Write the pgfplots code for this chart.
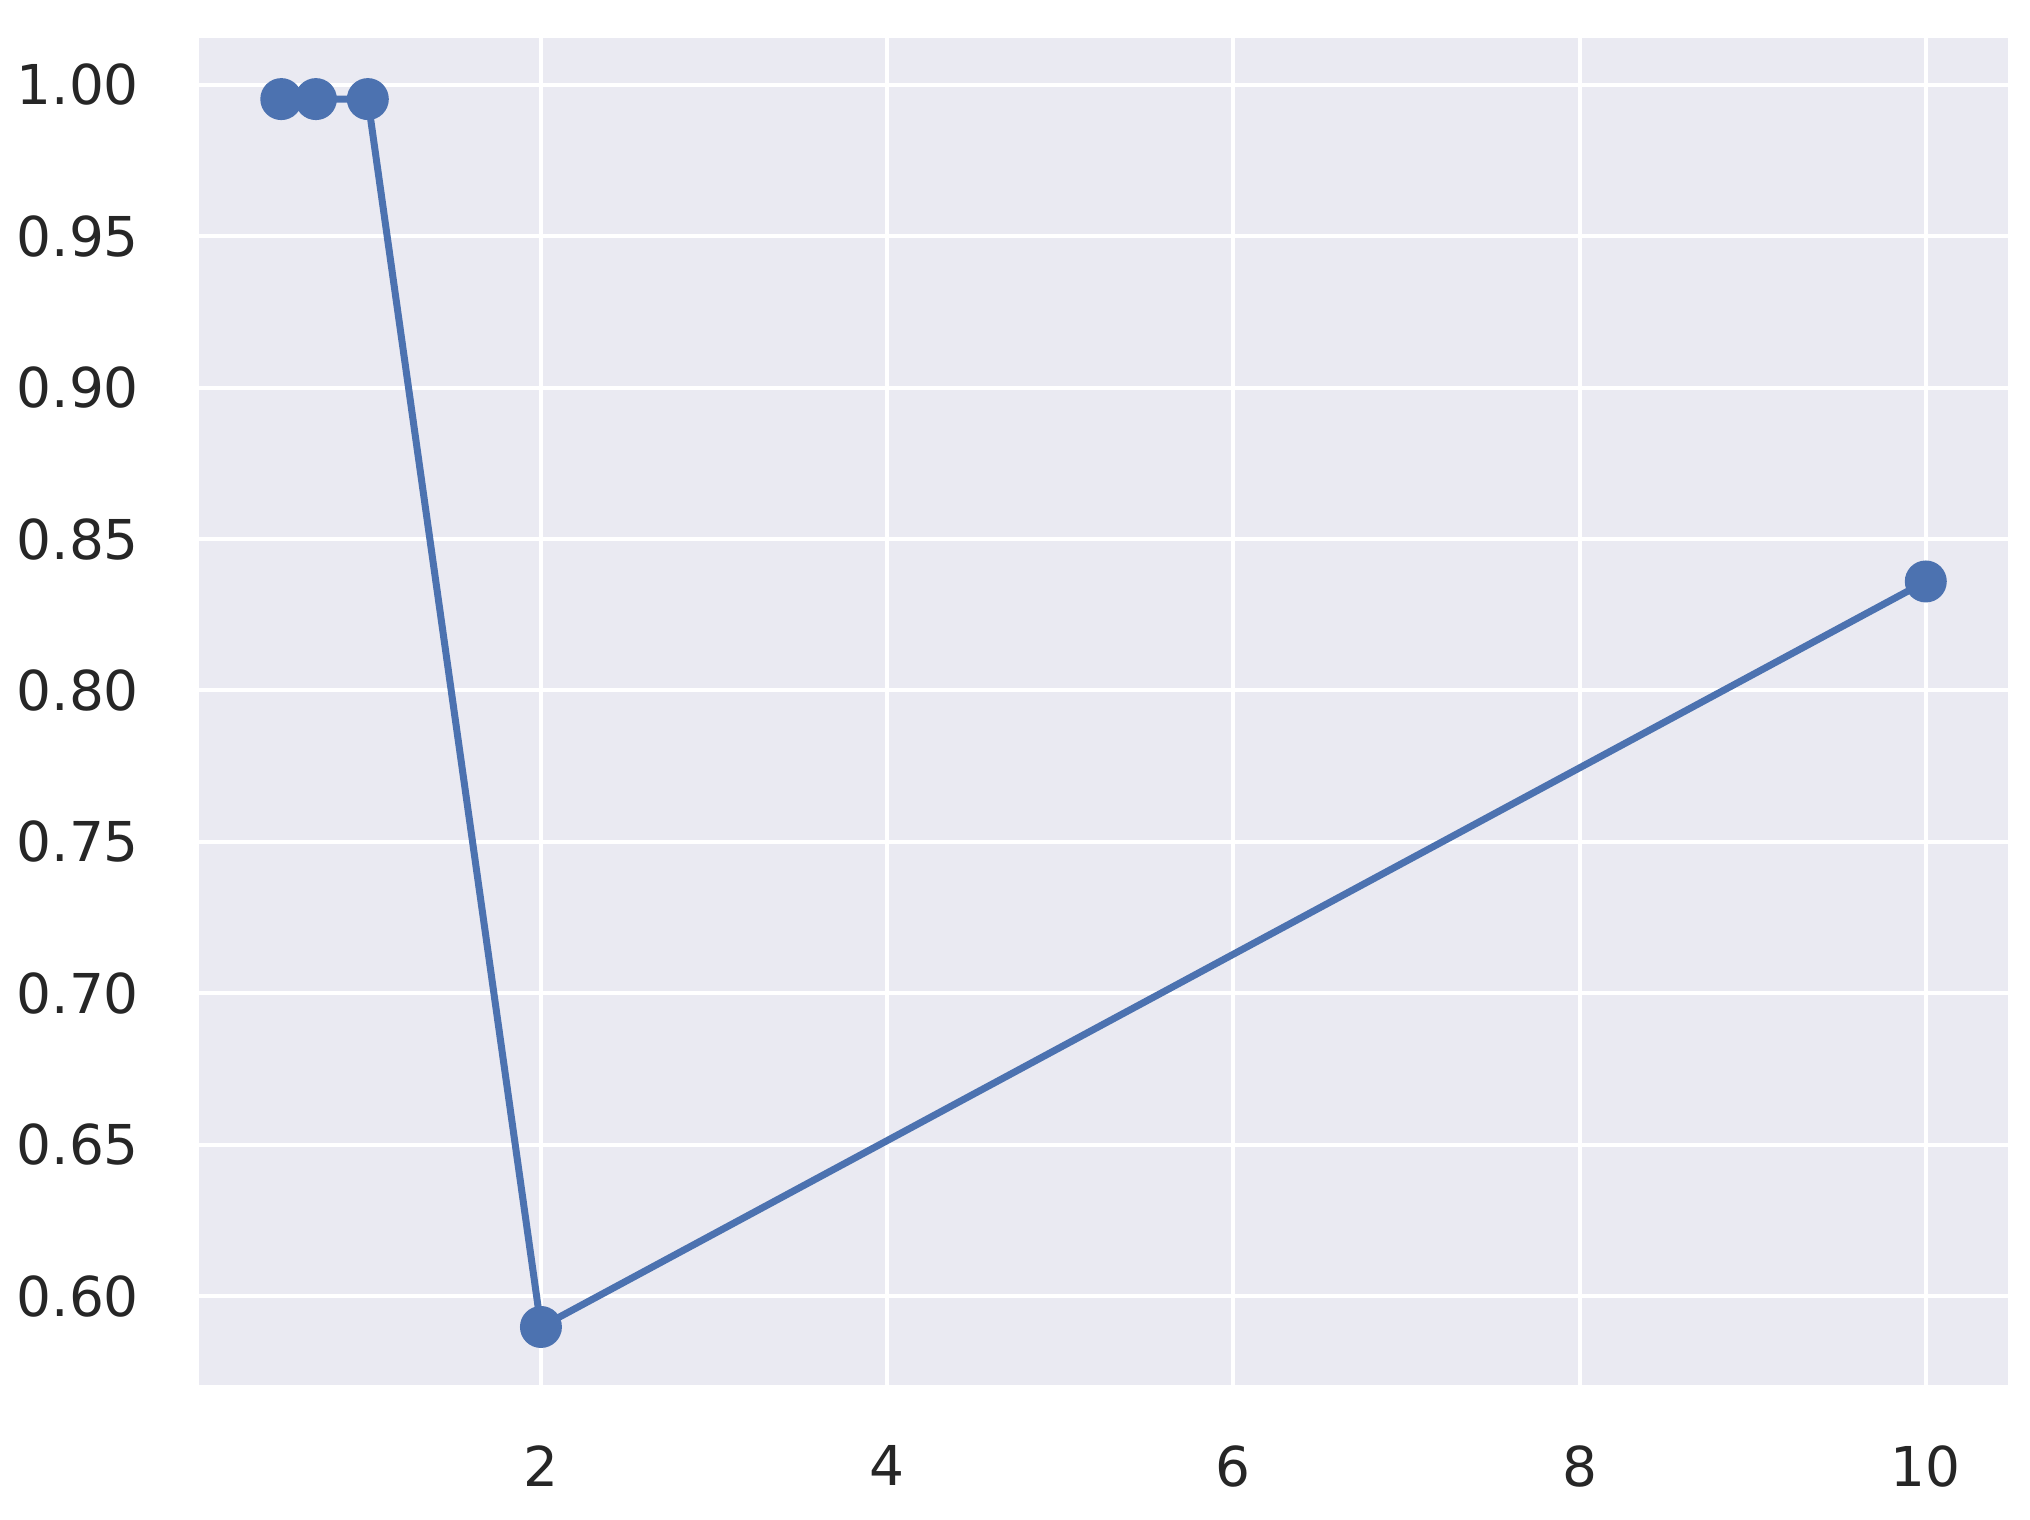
\documentclass[border=0pt]{standalone}
\usepackage{pgfplots}
\pgfplotsset{compat=1.18}
\usepackage{fontspec}
\setmainfont{DejaVu Sans}
\definecolor{sbbg}{HTML}{EAEAF2}
\definecolor{sbblue}{HTML}{4C72B0}
\definecolor{sbtext}{HTML}{262626}

\begin{document}
\begin{tikzpicture}
  \begin{axis}[
    width=362.2pt, height=269.8pt,
    scale only axis,
    xmin=0.025, xmax=10.475,
    ymin=0.5705, ymax=1.0155,
    xtick={2,4,6,8,10},
    ytick={0.60,0.65,...,1.001},
    y tick label style={/pgf/number format/fixed,
      /pgf/number format/fixed zerofill,
      /pgf/number format/precision=2},
    /pgf/number format/assume math mode=true,
    ticklabel style={font=\fontsize{11}{13}\selectfont, text=sbtext},
    xticklabel style={yshift=-8.5pt},
    yticklabel style={xshift=-8.5pt},
    major tick length=0pt,
    axis background/.style={fill=sbbg},
    axis line style={draw=none},
    grid=major,
    major grid style={white, line width=0.8pt},
  ]
    \addplot[color=sbblue, line width=1.4pt, mark=*, mark size=3.5pt,
      mark options={fill=sbblue, draw=sbblue}]
      coordinates {(0.5,0.9953) (0.7,0.9953) (1.0,0.9953) (2,0.5898) (10,0.836)};
  \end{axis}
  \path ([shift={(-39.4pt,-26.8pt)}]current axis.south west)
    rectangle ([shift={(4.4pt,7.6pt)}]current axis.north east);
\end{tikzpicture}
\end{document}
